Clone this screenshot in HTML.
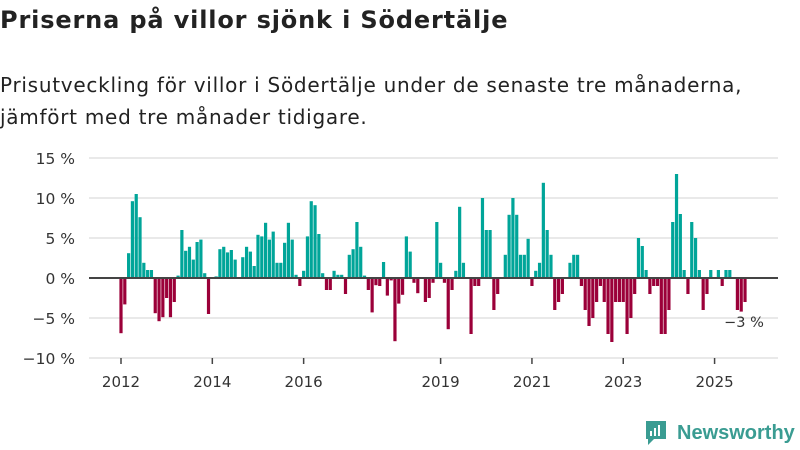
<!DOCTYPE html>
<html><head><meta charset="utf-8">
<style>
body{margin:0;width:800px;height:450px;background:#fff;font-family:"DejaVu Sans","Liberation Sans",sans-serif;overflow:hidden;position:relative;color:#222}
#title{position:absolute;left:0;top:6px;font-size:24px;font-weight:bold;margin:0;letter-spacing:0.85px;white-space:nowrap}
#sub{position:absolute;left:0;top:69px;font-size:20px;line-height:32px;color:#222;margin:0;letter-spacing:0.73px;white-space:nowrap}
svg{position:absolute;left:0;top:0}
</style></head><body>
<h1 id="title">Priserna på villor sjönk i Södertälje</h1>
<p id="sub">Prisutveckling för villor i Södertälje under de senaste tre månaderna,<br>jämfört med tre månader tidigare.</p>
<svg id="chart" width="800" height="450"></svg>
<script>
const values = [-6.9,-3.3,3.1,9.6,10.5,7.6,1.9,1.0,1.0,-4.4,-5.4,-4.9,-2.5,-4.9,-3.0,0.3,6.0,3.4,3.9,2.3,4.5,4.8,0.6,-4.5,0,0.2,3.6,3.9,3.2,3.5,2.3,0,2.6,3.9,3.3,1.5,5.4,5.2,6.9,
4.8,5.8,1.9,1.9,4.4,6.9,4.8,0.4,-1.0,0.9,5.2,9.6,9.1,5.5,0.6,-1.5,-1.5,0.9,0.4,0.4,-2.0,2.9,3.6,7.0,3.9,0.3,-1.5,-4.3,-0.9,-1.0,2.0,-2.2,-0.3,-7.9,-3.2,-2.1,5.2,3.3,
-0.6,-1.9,0,-3.0,-2.5,
-0.6,7.0,1.9,-0.6,-6.4,-1.5,0.9,8.9,1.9,0,-7.0,-1.0,-1.0,10.0,6.0,6.0,-4.0,-2.0,0,2.9,7.9,10.0,7.9,2.9,2.9,4.9,-1.0,0.9,1.9,11.9,6.0,2.9,-4.0,-3.0,-2.0,0,1.9,2.9,2.9,-1.0,
-4,-6,-5,-3,-1,-3,-7,-8,-3,-3,-3,-7,-5,-2,5,4,1,-2,-1,-1,-7,-7,-4,7,13,8,1,-2,7,5,1,-4,-2,1,0,1,-1,1,1,0,-4,-4.2,-3];
const startYear = 2012;
const yTicks = [15,10,5,0,-5,-10];
const yTickLabels = ["15 %","10 %","5 %","0 %","−5 %","−10 %"];
const xTickYears = [2012,2014,2016,2019,2021,2023,2025];
const lastLabel = "−3 %";

const NS="http://www.w3.org/2000/svg";
const svg=document.getElementById('chart');
const y=v=>278-v*8;
const step=3.805;
const x=m=>121+m*step;
function mk(t,a){const e=document.createElementNS(NS,t);for(const k in a)e.setAttribute(k,a[k]);svg.appendChild(e);return e;}
yTicks.forEach((t,i)=>{
  if(t!==0){const g=mk('line',{x1:89,x2:778,y1:y(t),y2:y(t),stroke:'#e2e2e2','stroke-width':1.5});
  
  }
  const l=mk('text',{x:75,y:y(t)+6,'text-anchor':'end','font-size':15.5,fill:'#333'});
  l.textContent=yTickLabels[i];
  
  
});
values.forEach((v,m)=>{
  if(v===0)return;
  const r=mk('rect',{x:x(m)-1.6,width:3.2,y:Math.min(y(v),278),height:Math.abs(y(v)-278),fill:v>0?'#00a599':'#9b0039'});
  
  
});
const ax=mk('line',{x1:89,x2:778,y1:278,y2:278,stroke:'#444','stroke-width':2});


xTickYears.forEach(yr=>{
  const m=(yr-startYear)*12;
  const t=mk('line',{x1:x(m),x2:x(m),y1:358,y2:364,stroke:'#444','stroke-width':1.5});
  
  
  const l=mk('text',{x:x(m),y:387,'text-anchor':'middle','font-size':15,fill:'#333'});
  l.textContent=yr;
  
  
});
const ll=mk('text',{x:x(values.length-1)-1,y:y(values[values.length-1])+25,'text-anchor':'middle','font-size':14.5,fill:'#333'});
ll.textContent=lastLabel;


</script>
<div style="position:absolute;left:644px;top:419px;display:flex;align-items:center">
<svg width="24" height="28" style="position:static"><path d="M2 2h20v18H10l-6 6v-6H2z" fill="#3a9c92"/><rect x="6" y="12" width="2" height="5" fill="#fff"/><rect x="10" y="9" width="2" height="8" fill="#fff"/><rect x="14" y="6" width="2" height="11" fill="#fff"/></svg>
<span style="font-family:'Liberation Sans',sans-serif;font-size:20px;color:#3a9c92;margin-left:9px;font-weight:bold">Newsworthy</span></div>
</body></html>
